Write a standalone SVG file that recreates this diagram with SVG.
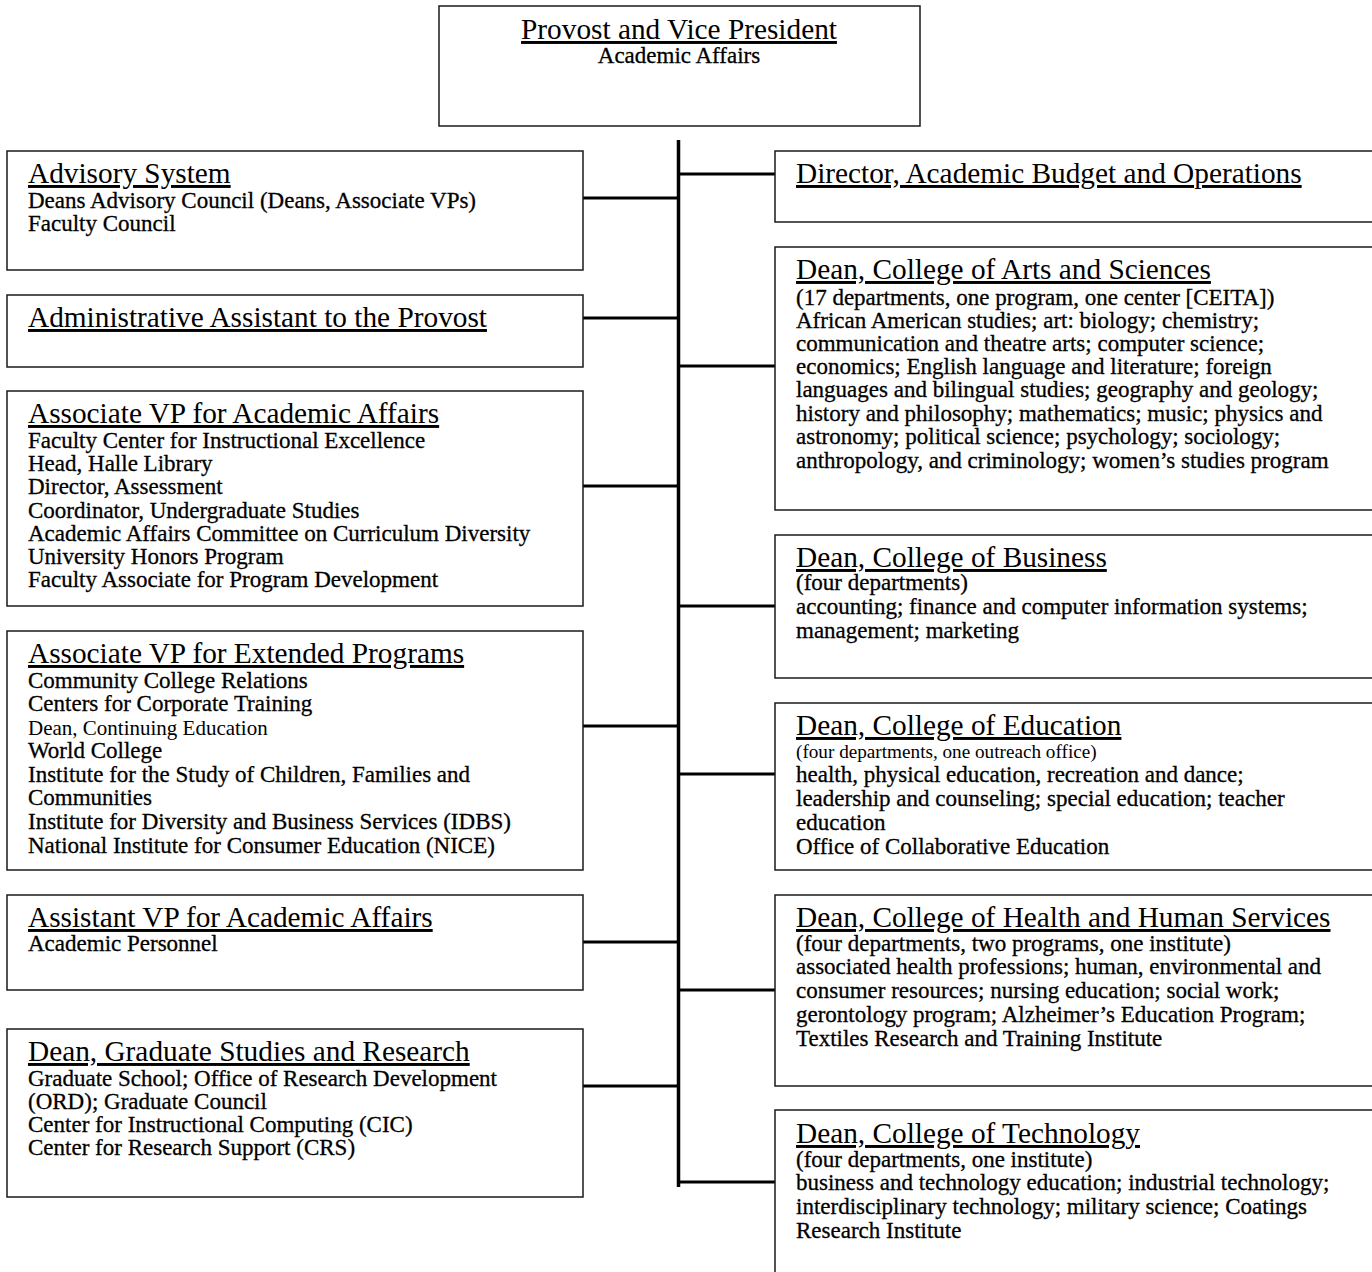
<svg xmlns="http://www.w3.org/2000/svg" width="1372" height="1272" viewBox="0 0 1372 1272">
<style>
.box{fill:#fff;stroke:#1a1a1a;stroke-width:1.5}
text{font-family:"Liberation Serif","Times New Roman",serif;fill:#000}
.h{font-size:29.3px;text-decoration:underline}
.b{font-size:23px;stroke:#000;stroke-width:0.3}
.s{font-size:21px}
.e{font-size:19.2px}
.c{stroke:#000;fill:none}
</style>
<rect width="1372" height="1272" fill="#fff"/>
<g id="connectors">
<line class="c" x1="678.5" y1="140" x2="678.5" y2="1187" stroke-width="3.5"/>
<g stroke-width="3">
<line class="c" x1="583" y1="198" x2="678" y2="198"/>
<line class="c" x1="583" y1="318" x2="678" y2="318"/>
<line class="c" x1="583" y1="486" x2="678" y2="486"/>
<line class="c" x1="583" y1="726" x2="678" y2="726"/>
<line class="c" x1="583" y1="942" x2="678" y2="942"/>
<line class="c" x1="583" y1="1086" x2="678" y2="1086"/>
<line class="c" x1="679" y1="174" x2="775" y2="174"/>
<line class="c" x1="679" y1="366" x2="775" y2="366"/>
<line class="c" x1="679" y1="606" x2="775" y2="606"/>
<line class="c" x1="679" y1="774" x2="775" y2="774"/>
<line class="c" x1="679" y1="990" x2="775" y2="990"/>
<line class="c" x1="679" y1="1182" x2="775" y2="1182"/>
</g>
</g>
<g id="provost">
<rect class="box" x="439" y="6" width="481" height="120"/>
<text class="h" x="679" y="39" text-anchor="middle">Provost and Vice President</text>
<text class="b" x="679" y="63" text-anchor="middle">Academic Affairs</text>
</g>
<g id="advisory">
<rect class="box" x="7" y="151" width="576" height="119"/>
<text class="h" x="28" y="183">Advisory System</text>
<text class="b" x="28" y="208">Deans Advisory Council (Deans, Associate VPs)</text>
<text class="b" x="28" y="231">Faculty Council</text>
</g>
<g id="admin-assistant">
<rect class="box" x="7" y="295" width="576" height="72"/>
<text class="h" x="28" y="327">Administrative Assistant to the Provost</text>
</g>
<g id="assoc-vp-aa">
<rect class="box" x="7" y="391" width="576" height="215"/>
<text class="h" x="28" y="423">Associate VP for Academic Affairs</text>
<text class="b" x="28" y="448">Faculty Center for Instructional Excellence</text>
<text class="b" x="28" y="471">Head, Halle Library</text>
<text class="b" x="28" y="494">Director, Assessment</text>
<text class="b" x="28" y="518">Coordinator, Undergraduate Studies</text>
<text class="b" x="28" y="541">Academic Affairs Committee on Curriculum Diversity</text>
<text class="b" x="28" y="564">University Honors Program</text>
<text class="b" x="28" y="587">Faculty Associate for Program Development</text>
</g>
<g id="assoc-vp-ep">
<rect class="box" x="7" y="631" width="576" height="239"/>
<text class="h" x="28" y="663">Associate VP for Extended Programs</text>
<text class="b" x="28" y="688">Community College Relations</text>
<text class="b" x="28" y="711">Centers for Corporate Training</text>
<text class="s" x="28" y="735">Dean, Continuing Education</text>
<text class="b" x="28" y="758">World College</text>
<text class="b" x="28" y="782">Institute for the Study of Children, Families and</text>
<text class="b" x="28" y="805">Communities</text>
<text class="b" x="28" y="829">Institute for Diversity and Business Services (IDBS)</text>
<text class="b" x="28" y="853">National Institute for Consumer Education (NICE)</text>
</g>
<g id="assistant-vp">
<rect class="box" x="7" y="895" width="576" height="95"/>
<text class="h" x="28" y="927">Assistant VP for Academic Affairs</text>
<text class="b" x="28" y="951">Academic Personnel</text>
</g>
<g id="dean-grad">
<rect class="box" x="7" y="1029" width="576" height="168"/>
<text class="h" x="28" y="1061">Dean, Graduate Studies and Research</text>
<text class="b" x="28" y="1086">Graduate School; Office of Research Development</text>
<text class="b" x="28" y="1109">(ORD); Graduate Council</text>
<text class="b" x="28" y="1132">Center for Instructional Computing (CIC)</text>
<text class="b" x="28" y="1155">Center for Research Support (CRS)</text>
</g>
<g id="director-budget">
<rect class="box" x="775" y="151" width="610" height="71"/>
<text class="h" x="796" y="183">Director, Academic Budget and Operations</text>
</g>
<g id="dean-arts">
<rect class="box" x="775" y="247" width="610" height="263"/>
<text class="h" x="796" y="279">Dean, College of Arts and Sciences</text>
<text class="b" x="796" y="305">(17 departments, one program, one center [CEITA])</text>
<text class="b" x="796" y="328">African American studies; art: biology; chemistry;</text>
<text class="b" x="796" y="351">communication and theatre arts; computer science;</text>
<text class="b" x="796" y="374">economics; English language and literature; foreign</text>
<text class="b" x="796" y="397">languages and bilingual studies; geography and geology;</text>
<text class="b" x="796" y="421">history and philosophy; mathematics; music; physics and</text>
<text class="b" x="796" y="444">astronomy; political science; psychology; sociology;</text>
<text class="b" x="796" y="468">anthropology, and criminology; women’s studies program</text>
</g>
<g id="dean-business">
<rect class="box" x="775" y="535" width="610" height="143"/>
<text class="h" x="796" y="567">Dean, College of Business</text>
<text class="b" x="796" y="590">(four departments)</text>
<text class="b" x="796" y="614">accounting; finance and computer information systems;</text>
<text class="b" x="796" y="638">management; marketing</text>
</g>
<g id="dean-education">
<rect class="box" x="775" y="703" width="610" height="167"/>
<text class="h" x="796" y="735">Dean, College of Education</text>
<text class="e" x="796" y="758">(four departments, one outreach office)</text>
<text class="b" x="796" y="782">health, physical education, recreation and dance;</text>
<text class="b" x="796" y="806">leadership and counseling; special education; teacher</text>
<text class="b" x="796" y="830">education</text>
<text class="b" x="796" y="854">Office of Collaborative Education</text>
</g>
<g id="dean-health">
<rect class="box" x="775" y="895" width="610" height="191"/>
<text class="h" x="796" y="927">Dean, College of Health and Human Services</text>
<text class="b" x="796" y="951">(four departments, two programs, one institute)</text>
<text class="b" x="796" y="974">associated health professions; human, environmental and</text>
<text class="b" x="796" y="998">consumer resources; nursing education; social work;</text>
<text class="b" x="796" y="1022">gerontology program; Alzheimer’s Education Program;</text>
<text class="b" x="796" y="1046">Textiles Research and Training Institute</text>
</g>
<g id="dean-technology">
<rect class="box" x="775" y="1110" width="610" height="180"/>
<text class="h" x="796" y="1143">Dean, College of Technology</text>
<text class="b" x="796" y="1167">(four departments, one institute)</text>
<text class="b" x="796" y="1190">business and technology education; industrial technology;</text>
<text class="b" x="796" y="1214">interdisciplinary technology; military science; Coatings</text>
<text class="b" x="796" y="1238">Research Institute</text>
</g>
</svg>
